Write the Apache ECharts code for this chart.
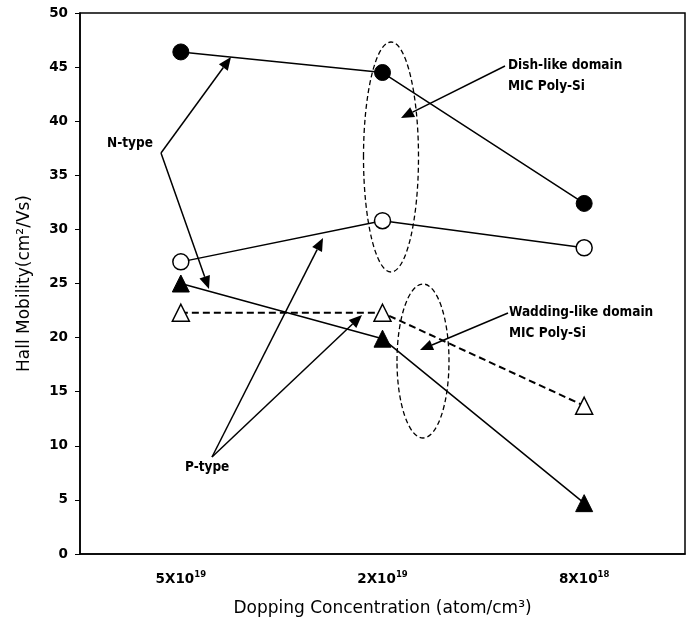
<!DOCTYPE html>
<html>
<head>
<meta charset="utf-8">
<script src="https://cdn.jsdelivr.net/npm/echarts@6/dist/echarts.min.js"></script>
<style>
html,body{margin:0;padding:0;background:#fff;}
#chart{width:690px;height:619px;}
</style>
</head>
<body>
<div id="chart"></div>
<script>
// ---- data ----
var categories = ['5X10^19', '2X10^19', '8X10^18'];
var nTypeDish = [46.4, 44.5, 32.4];      // filled circles
var pTypeDish = [27.0, 30.8, 28.3];      // open circles
var nTypeWadding = [25.0, 19.9, 4.7];    // filled triangles
var pTypeWadding = [22.3, 22.3, 13.7];   // open triangles
var yTicks = { min: 0, max: 50, interval: 5 };

var FONT = 'DejaVu Sans';
var ANNO_FONT = '"DejaVu Sans Condensed", "DejaVu Sans"';

function arrow(x1, y1, x2, y2) {
  var dx = x2 - x1, dy = y2 - y1;
  var len = Math.sqrt(dx * dx + dy * dy);
  var ux = dx / len, uy = dy / len;
  var hl = 13, hw = 5.5;
  var bx = x2 - ux * hl, by = y2 - uy * hl;
  return [
    { type: 'line', z: 50, shape: { x1: x1, y1: y1, x2: bx, y2: by },
      style: { stroke: '#000', lineWidth: 1.5 } },
    { type: 'polygon', z: 50, shape: { points: [[x2, y2], [bx - uy * hw, by + ux * hw], [bx + uy * hw, by - ux * hw]] },
      style: { fill: '#000' } }
  ];
}

var graphics = [];
// dashed ellipses
graphics.push({ type: 'ellipse', z: 40, shape: { cx: 391, cy: 157, rx: 27.5, ry: 115 },
  style: { fill: 'none', stroke: '#000', lineWidth: 1.3, lineDash: [5, 3] } });
graphics.push({ type: 'ellipse', z: 40, shape: { cx: 423, cy: 361, rx: 26, ry: 77 },
  style: { fill: 'none', stroke: '#000', lineWidth: 1.3, lineDash: [5, 3] } });
// N-type arrows
graphics = graphics.concat(arrow(161, 153, 231, 57));
graphics = graphics.concat(arrow(161, 153, 209, 289));
// P-type arrows
graphics = graphics.concat(arrow(212, 457, 323, 238));
graphics = graphics.concat(arrow(212, 457, 362, 315));
// domain arrows
graphics = graphics.concat(arrow(505, 66, 401, 118));
graphics = graphics.concat(arrow(508, 313, 420, 350));
// texts
function txt(x, y, s) {
  return { type: 'text', z: 60, x: x, y: y,
    style: { text: s, fill: '#000', font: 'bold 13.5px ' + ANNO_FONT, textVerticalAlign: 'middle', textAlign: 'left' } };
}
graphics.push(txt(107, 143, 'N-type'));
graphics.push(txt(185, 467, 'P-type'));
graphics.push(txt(508, 65, 'Dish-like domain'));
graphics.push(txt(508, 86, 'MIC Poly-Si'));
graphics.push(txt(509, 312, 'Wadding-like domain'));
graphics.push(txt(509, 333, 'MIC Poly-Si'));

var chart = echarts.init(document.getElementById('chart'), null, { renderer: 'canvas' });
chart.setOption({
  animation: false,
  backgroundColor: '#fff',
  grid: { left: 80, right: 5, top: 13, bottom: 65, outerBoundsMode: 'none', containLabel: false,
    show: true, borderColor: '#000', borderWidth: 1.5, backgroundColor: 'transparent' },
  xAxis: {
    type: 'category',
    data: categories,
    boundaryGap: true,
    name: 'Dopping Concentration (atom/cm³)',
    nameLocation: 'middle',
    nameGap: 46,
    nameTextStyle: { fontFamily: FONT, fontSize: 17, color: '#000' },
    axisLine: { lineStyle: { color: '#000', width: 1.5 } },
    axisTick: { inside: true, length: 4, lineStyle: { color: '#000' } },
    axisLabel: {
      margin: 14,
      formatter: function (v) {
        var p = v.split('^');
        return '{a|' + p[0] + '}{s|' + p[1] + '}';
      },
      rich: {
        a: { fontFamily: FONT, fontSize: 13.5, fontWeight: 'bold', color: '#000', verticalAlign: 'bottom', lineHeight: 18 },
        s: { fontFamily: FONT, fontSize: 8.5, fontWeight: 'bold', color: '#000', verticalAlign: 'bottom', padding: [0, 0, 7, 0], lineHeight: 10 }
      }
    },
    splitLine: { show: false }
  },
  yAxis: {
    type: 'value',
    min: yTicks.min, max: yTicks.max, interval: yTicks.interval,
    name: 'Hall Mobility(cm²/Vs)',
    nameLocation: 'middle',
    nameGap: 47,
    nameTextStyle: { fontFamily: FONT, fontSize: 17, color: '#000' },
    axisLine: { show: true, lineStyle: { color: '#000', width: 1.5 } },
    axisTick: { show: true, inside: false, length: 5, lineStyle: { color: '#000' } },
    axisLabel: { fontFamily: FONT, fontSize: 13.5, fontWeight: 'bold', color: '#000', margin: 12 },
    splitLine: { show: false }
  },
  series: [
    { type: 'line', data: nTypeDish, symbol: 'circle', symbolSize: 16,
      itemStyle: { color: '#000', borderColor: '#000', borderWidth: 1 },
      lineStyle: { color: '#000', width: 1.5 } },
    { type: 'line', data: pTypeDish, symbol: 'circle', symbolSize: 16,
      itemStyle: { color: '#fff', borderColor: '#000', borderWidth: 1.5 },
      lineStyle: { color: '#000', width: 1.5 } },
    { type: 'line', data: nTypeWadding, symbol: 'triangle', symbolSize: 17,
      itemStyle: { color: '#000', borderColor: '#000', borderWidth: 1 },
      lineStyle: { color: '#000', width: 1.5 } },
    { type: 'line', data: pTypeWadding, symbol: 'triangle', symbolSize: 17,
      itemStyle: { color: '#fff', borderColor: '#000', borderWidth: 1.5 },
      lineStyle: { color: '#000', width: 2, type: [7, 4] } }
  ],
  graphic: graphics
});
</script>
</body>
</html>
